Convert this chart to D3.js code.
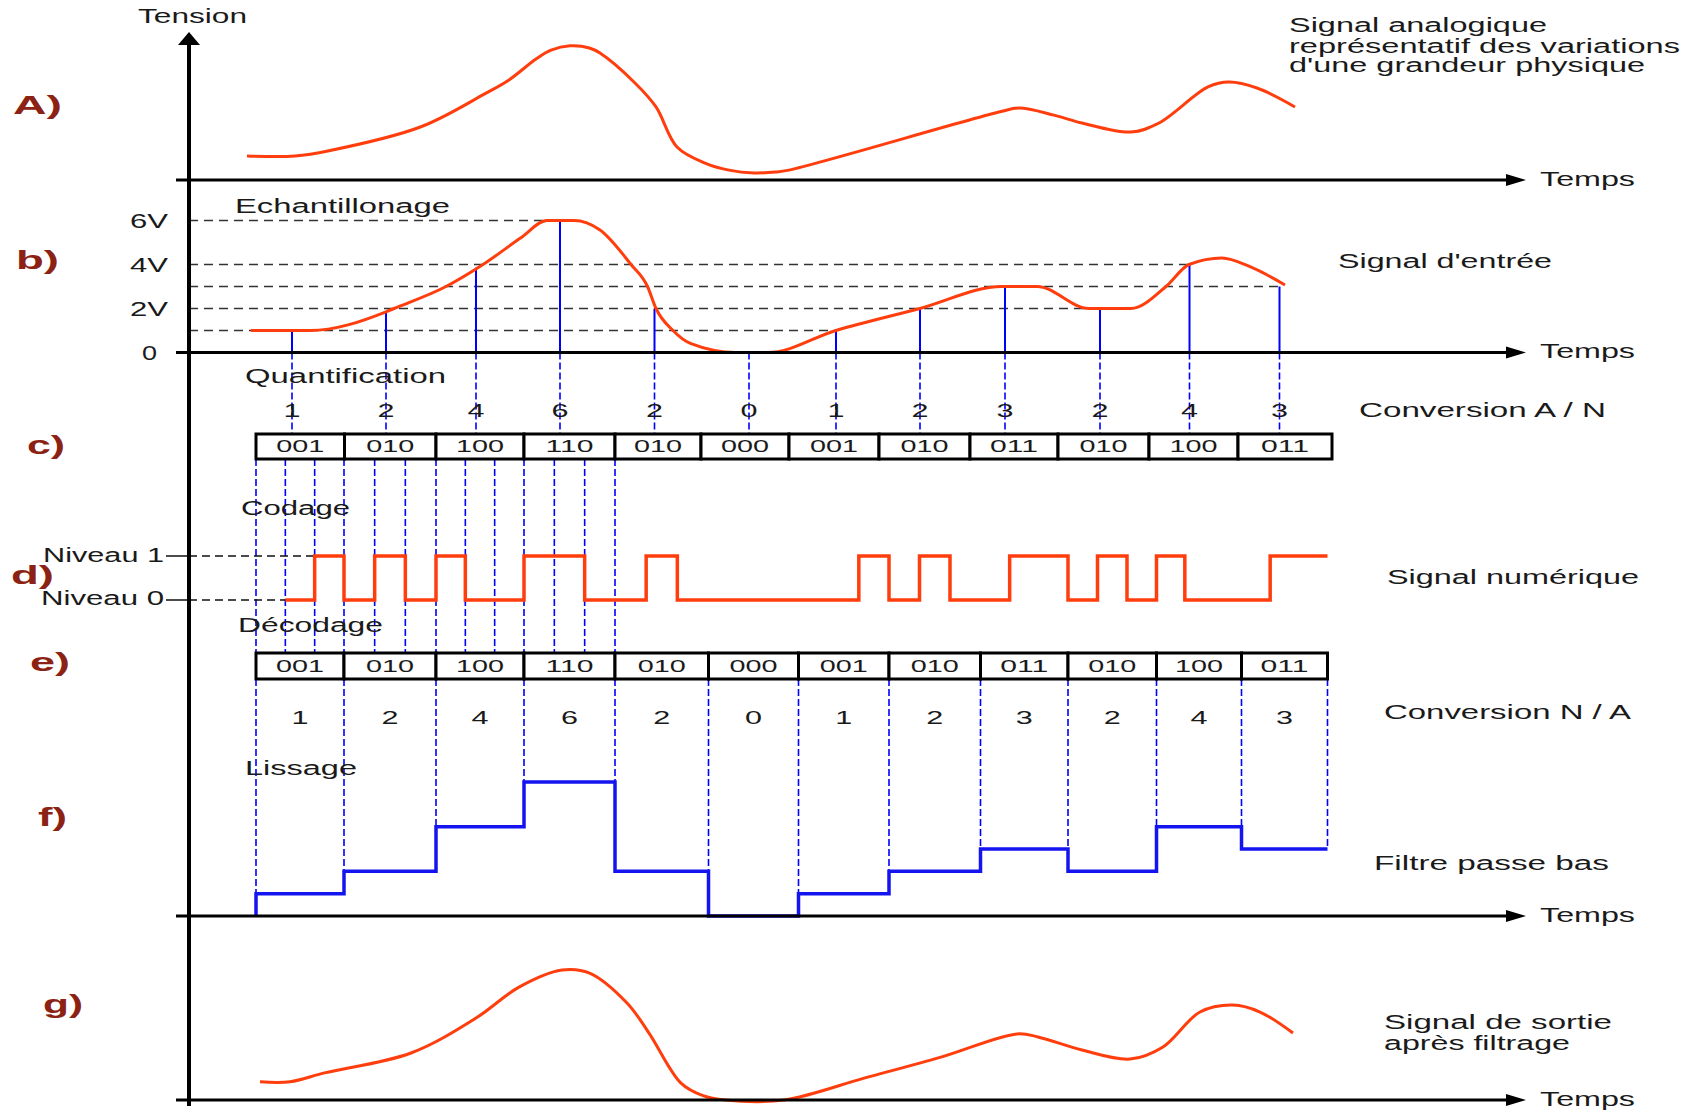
<!DOCTYPE html>
<html>
<head>
<meta charset="utf-8">
<script src="https://cdn.jsdelivr.net/npm/d3@7/dist/d3.min.js"></script>
<style>
body { margin: 0; background: #fff; }
text { font-family: "Liberation Sans", Arial, sans-serif; }
</style>
</head>
<body>
<script>
// ---- values (time in ms, tension in V) ----
var sampleTimes  = [10.3, 19.7, 28.7, 37.1, 46.55, 56.0, 64.7, 73.1, 81.6, 91.1, 100.05, 109.05];
var sampleVolts  = [1, 1.85, 3.85, 6, 2, 0, 1, 2, 3, 2, 4, 3];
var sampleLevels = [1, 2, 4, 6, 2, 0, 1, 2, 3, 2, 4, 3];
var codes = ["001", "010", "100", "110", "010", "000", "001", "010", "011", "010", "100", "011"];
var codeEdgesAN = [6.7, 15.55, 24.7, 33.5, 42.6, 51.2, 60.0, 69.0, 78.1, 86.9, 96.0, 104.9, 114.3];
var codeEdgesNA = [6.7, 15.5, 24.7, 33.5, 42.6, 51.95, 60.95, 70.0, 79.15, 87.9, 96.75, 105.25, 113.85];
var tracedCodes = 4; // bit cells traced down for the first codes only
var voltTicks = [0, 2, 4, 6];
var voltTickLabels = ["0", "2V", "4V", "6V"];

// A) analog signal
var analogT = [5.8, 10.6, 14.0, 23.2, 29.7, 32.0, 34.7, 36.2, 38.1, 40.05, 41.1, 44.6, 46.7, 48.8, 51.6, 54.0, 56.5, 58.6, 60.0, 81.1, 83.0, 86.5, 89.3, 94.2, 97.0, 101.9, 104.0, 106.8, 110.6];
var analogV = [1.09, 1.09, 1.33, 2.42, 3.95, 4.55, 5.5, 5.9, 6.1, 6.0, 5.77, 4.41, 3.32, 1.5, 0.77, 0.45, 0.32, 0.36, 0.45, 3.1, 3.27, 2.95, 2.59, 2.18, 2.59, 4.23, 4.45, 4.18, 3.32];
// b) input signal
var inputT = [6.2, 12.1, 19.7, 20.5, 25.7, 29.4, 33.15, 35.8, 38.5, 41.1, 44.2, 45.85, 46.7, 48.4, 50.2, 54.7, 57.9, 64.7, 73.1, 81.3, 84.8, 90.0, 94.2, 97.7, 100.0, 103.3, 106.1, 109.6];
var inputV = [1, 1, 1.85, 2, 3, 4, 5.2, 6, 6, 5.57, 4, 3, 2, 1, 0.4, 0, 0, 1, 2, 3, 3, 2, 2, 3, 4, 4.3, 3.9, 3.07];
// g) output signal
var outputT = [7.1, 10.1, 13.55, 22.2, 28.7, 33.0, 37.3, 40.05, 43.8, 46.0, 49.2, 51.4, 53.6, 59.5, 67.6, 75.2, 82.8, 84.9, 89.3, 94.1, 97.4, 101.1, 104.4, 107.1, 110.4];
var outputV = [0.84, 0.84, 1.25, 2.17, 3.78, 5.21, 6.0, 5.86, 4.48, 3.09, 0.78, 0.2, 0, 0, 1.02, 1.98, 3.05, 2.91, 2.31, 1.89, 2.45, 4.06, 4.38, 4.06, 3.09];

var sectionLabels = ["A)", "b)", "c)", "d)", "e)", "f)", "g)"];

// ---- layout ----
var w = 1696, h = 1110;
var axisX = 189, arrowX = 1526;
var red = "#ff3d0d", blue = "#0000ff", stairBlue = "#1414f0", brown = "#8b2214";

var x = d3.scaleLinear().domain([0, 140]).range([axisX, axisX + 1400]);
var yA = d3.scaleLinear().domain([0, 6]).range([180, 48]);
var yB = d3.scaleLinear().domain([0, 6]).range([352.5, 220.5]);
var yD = d3.scaleLinear().domain([0, 1]).range([600, 556]);
var yF = d3.scaleLinear().domain([0, 6]).range([916, 782]);
var yG = d3.scaleLinear().domain([0, 6]).range([1100, 970]);
var boxC = { top: 434, h: 25 }, boxE = { top: 653, h: 26 };

var svg = d3.select("body").append("svg")
    .attr("width", w)
    .attr("height", h);

// text helper: the picture's lettering is stretched sideways
function note(str, px, py, len, o) {
    o = o || {};
    var t = svg.append("text")
        .attr("x", px)
        .attr("y", py)
        .attr("dy", "0.36em")
        .attr("font-size", o.size || 20)
        .attr("fill", o.fill || "#1a1a1a")
        .attr("text-anchor", o.anchor || "start")
        .text(str);
    if (o.bold) t.attr("font-weight", "bold");
    if (len) t.attr("textLength", len).attr("lengthAdjust", "spacingAndGlyphs");
    return t;
}

function vline(px, y1, y2, color, width, dash) {
    var l = svg.append("line")
        .attr("x1", px).attr("x2", px)
        .attr("y1", y1).attr("y2", y2)
        .attr("stroke", color)
        .attr("stroke-width", width);
    if (dash) l.attr("stroke-dasharray", dash);
    return l;
}

function hline(x1, x2, py, color, width, dash) {
    var l = svg.append("line")
        .attr("x1", x1).attr("x2", x2)
        .attr("y1", py).attr("y2", py)
        .attr("stroke", color)
        .attr("stroke-width", width);
    if (dash) l.attr("stroke-dasharray", dash);
    return l;
}

// ---- b) quantisation levels (dashed) up to the last sample at that level ----
[1, 2, 3, 4, 6].forEach(function(v) {
    var lastT = d3.max(sampleTimes.filter(function(t, i) { return sampleLevels[i] === v; }));
    hline(axisX, x(lastT), yB(v), "#333", 1.6, "9,6");
});

// ---- sample lines ----
sampleTimes.forEach(function(t, i) {
    if (sampleVolts[i] > 0) vline(x(t), yB(0), yB(sampleVolts[i]), blue, 2);
    vline(x(t), yB(0), boxC.top, blue, 1.6, "7,3");
    note(String(sampleLevels[i]), x(t), 410, 17, { anchor: "middle", size: 19 });
});

// ---- bit cells traced between c) and e) ----
var bitLines = [];
for (var i = 0; i < tracedCodes; i++) {
    var a = codeEdgesNA[i], b = codeEdgesNA[i + 1];
    for (var j = 0; j < 3; j++) bitLines.push(a + (b - a) * j / 3);
}
bitLines.push(codeEdgesNA[tracedCodes]);
bitLines.forEach(function(t) {
    vline(x(t), boxC.top + boxC.h, boxE.top, blue, 1.6, "7,3");
});

// ---- e) -> f) traces down to the staircase ----
codeEdgesNA.forEach(function(t, k) {
    var lv = d3.max([sampleLevels[k - 1], sampleLevels[k]].filter(function(d) { return d !== undefined; }));
    vline(x(t), boxE.top + boxE.h, yF(lv), blue, 1.6, "7,3");
});

// ---- d) digital signal ----
var bits = [];
codes.forEach(function(c, i) {
    var a = codeEdgesNA[i], b = codeEdgesNA[i + 1];
    for (var j = 0; j < 3; j++) bits.push({ t: a + (b - a) * j / 3, v: +c[j] });
});
bits = bits.slice(1); // the trace starts at the second bit cell
bits.push({ t: codeEdgesNA[codeEdgesNA.length - 1], v: bits[bits.length - 1].v });

var firstHigh = bits.filter(function(d) { return d.v === 1; })[0].t;
hline(166, axisX, yD(1), "#111", 1.5);
hline(166, axisX, yD(0), "#111", 1.5);
hline(axisX, x(firstHigh), yD(1), "#111", 1.5, "8,5");
hline(axisX, x(bits[0].t), yD(0), "#111", 1.5, "8,5");

svg.append("path")
    .datum(bits)
    .attr("d", d3.line().x(function(d) { return x(d.t); }).y(function(d) { return yD(d.v); }).curve(d3.curveStepAfter))
    .attr("fill", "none")
    .attr("stroke", red)
    .attr("stroke-width", 3.5);

// ---- f) staircase ----
var stairs = [{ t: codeEdgesNA[0], v: 0 }];
sampleLevels.forEach(function(v, i) {
    stairs.push({ t: codeEdgesNA[i], v: v });
    stairs.push({ t: codeEdgesNA[i + 1], v: v });
});
svg.append("path")
    .datum(stairs)
    .attr("d", d3.line().x(function(d) { return x(d.t); }).y(function(d) { return yF(d.v); }))
    .attr("fill", "none")
    .attr("stroke", stairBlue)
    .attr("stroke-width", 3.5);

// ---- code boxes c) and e) ----
function codeRow(edges, box) {
    codes.forEach(function(c, i) {
        svg.append("rect")
            .attr("x", x(edges[i]))
            .attr("y", box.top)
            .attr("width", x(edges[i + 1]) - x(edges[i]))
            .attr("height", box.h)
            .attr("fill", "#fff")
            .attr("stroke", "#000")
            .attr("stroke-width", 3);
        note(c, (x(edges[i]) + x(edges[i + 1])) / 2, box.top + box.h / 2, 48, { anchor: "middle", size: 16 });
    });
}
codeRow(codeEdgesAN, boxC);
codeRow(codeEdgesNA, boxE);

// e) decimal values
sampleLevels.forEach(function(v, i) {
    note(String(v), (x(codeEdgesNA[i]) + x(codeEdgesNA[i + 1])) / 2, 717, 17, { anchor: "middle", size: 19 });
});

// ---- analog curves ----
function curve(ts, vs, ys, shape) {
    svg.append("path")
        .datum(ts.map(function(t, i) { return [t, vs[i]]; }))
        .attr("d", d3.line()
            .x(function(d) { return x(d[0]); })
            .y(function(d) { return ys(d[1]); })
            .curve(shape))
        .attr("fill", "none")
        .attr("stroke", red)
        .attr("stroke-width", 3);
}
curve(analogT, analogV, yA, d3.curveCatmullRom.alpha(0.5));
curve(inputT, inputV, yB, d3.curveMonotoneX);
curve(outputT, outputV, yG, d3.curveCatmullRom.alpha(0.5));

// ---- axes ----
[yA(0), yB(0), yF(0), yG(0)].forEach(function(yy) {
    hline(176, arrowX - 14, yy, "#000", 3);
    svg.append("path")
        .attr("d", "M" + arrowX + "," + yy + "L" + (arrowX - 20) + "," + (yy - 6) + "L" + (arrowX - 20) + "," + (yy + 6) + "Z")
        .attr("fill", "#000");
    note("Temps", arrowX + 14, yy - 1.5, 95);
});
vline(axisX, 42, 1106, "#000", 4);
svg.append("path")
    .attr("d", "M" + axisX + ",32L" + (axisX - 11) + ",45L" + (axisX + 11) + ",45Z")
    .attr("fill", "#000");
note("Tension", 138, 16, 109);

// b) tension ticks
voltTicks.forEach(function(v, i) {
    var lab = voltTickLabels[i];
    note(lab, v === 0 ? 157 : 168, yB(v), lab.length === 1 ? 15 : 38, { anchor: "end" });
});

// ---- section letters ----
var secX = [13, 16, 27, 11, 30, 38, 43];
var secY = [105, 260, 445, 575, 662, 817, 1004];
var secW = [49, 43, 38, 43, 40, 29, 40];
sectionLabels.forEach(function(s, i) {
    note(s, secX[i], secY[i], secW[i], { size: 26, bold: true, fill: brown });
});

// ---- step names and captions ----
note("Echantillonage", 235, 206, 215);
note("Quantification", 245, 376, 201);
note("Codage", 241, 508, 109);
note("Décodage", 238, 625, 145);
note("Lissage", 245, 768, 112);
note("Niveau 1", 164, yD(1) - 1, 121, { anchor: "end" });
note("Niveau 0", 164, yD(0) - 2, 123, { anchor: "end" });

note("Signal analogique", 1289, 25, 258);
note("représentatif des variations", 1289, 46, 391);
note("d'une grandeur physique", 1289, 65, 356);
note("Signal d'entrée", 1338, 261, 214);
note("Conversion A / N", 1359, 410, 247);
note("Signal numérique", 1387, 577, 252);
note("Conversion N / A", 1384, 712, 247);
note("Filtre passe bas", 1374, 863, 235);
note("Signal de sortie", 1384, 1022, 228);
note("après filtrage", 1384, 1043, 186);
</script>
</body>
</html>
